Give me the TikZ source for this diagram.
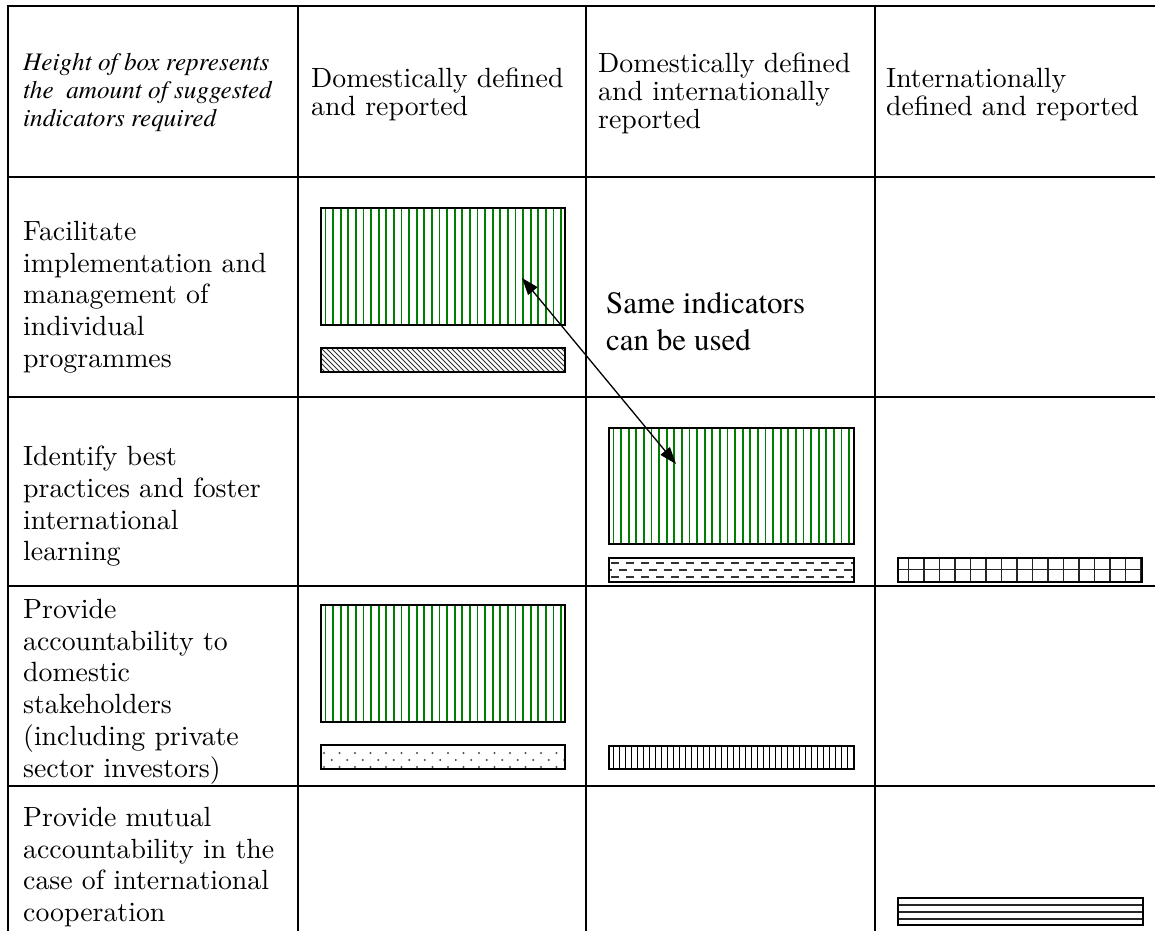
\documentclass[tikz,border=0pt]{standalone}
\usepackage{fontspec}
\usetikzlibrary{arrows.meta}
\newfontfamily\rowfont{lmroman10-regular.otf}
\IfFontExistsTF{texgyretermes-regular.otf}
  {\newfontfamily\timesfont{texgyretermes-regular.otf}[ItalicFont=texgyretermes-italic.otf]}
  {\newfontfamily\timesfont{Liberation Serif}}
\definecolor{stripegreen}{RGB}{0,128,0}
\newcommand{\gbox}[4]{%
  \begin{scope}
    \clip (#1,#2) rectangle (#3,#4);
    \foreach \k in {0,...,32} \draw[greenline] (#1+4.5+\k*7.6,#2) -- (#1+4.5+\k*7.6,#4);
  \end{scope}
  \draw[boxline] (#1,#2) rectangle (#3,#4);}
\begin{document}
\begin{tikzpicture}[x=1pt,y=-1pt,
  tableline/.style={line width=2.5pt,black},
  boxline/.style={line width=1.6pt,black},
  greenline/.style={line width=1.8pt,stripegreen},
  hatchline/.style={line width=1pt,black!80},
  rowtext/.style={anchor=north west,inner sep=0pt,align=left,font=\rowfont\fontsize{27.8}{31.7}\selectfont},
  hdrtext/.style={anchor=north west,inner sep=0pt,align=left,font=\rowfont\fontsize{27.8}{28}\selectfont},
  hdrit/.style={anchor=north west,inner sep=0pt,align=left,font=\timesfont\itshape\fontsize{25.2}{28}\selectfont},
  notetext/.style={anchor=north west,inner sep=0pt,align=left,font=\timesfont\fontsize{31}{37}\selectfont},
  twoway/.style={{Triangle[length=17pt,width=12pt]}-{Triangle[length=17pt,width=12pt]},line width=1.3pt}]
\useasboundingbox (0,0) rectangle (1155,931);
\fill[white] (0,0) rectangle (1155,931);
% table grid
\foreach \yy in {6,177,397,586,786} \draw[tableline] (6.8,\yy) -- (1155,\yy);
\foreach \xx in {8,298,586,875} \draw[tableline] (\xx,4.8) -- (\xx,931);
% header texts
\node[hdrit] (h0) at (23,53) {Height of box represents\\the~ amount of suggested\\indicators required};
\node[hdrtext] (h1) at (311,68) {Domestically defined\\and reported};
\node[hdrtext] (h2) at (598,53) {Domestically defined\\and internationally\\reported};
\node[hdrtext] (h3) at (886,68) {Internationally\\defined and reported};
% row texts
\node[rowtext] (r1) at (23,221) {Facilitate\\implementation and\\management of\\individual\\programmes};
\node[rowtext] (r2) at (23,446) {Identify best\\practices and foster\\international\\learning};
\node[rowtext] (r3) at (23,599) {Provide\\accountability to\\domestic\\stakeholders\\(including private\\sector investors)};
\node[rowtext] (r4) at (23,807) {Provide mutual\\accountability in the\\case of international\\cooperation};
% green boxes
\gbox{321}{208}{565}{325}
\gbox{609}{428}{854}{544}
\gbox{321}{605}{565}{722}
% diagonal hatched box
\begin{scope}
  \clip (321,348) rectangle (565,372);
  \foreach \k in {-6,...,50} \draw[hatchline] (321+\k*5,348) -- ++(24,24);
\end{scope}
\draw[boxline] (321,348) rectangle (565,372);
% dashed box
\begin{scope}
  \clip (609,558) rectangle (854,582);
  \draw[line width=1.1pt,black!80,dash pattern=on 8pt off 7pt] (611,563) -- (854,563);
  \draw[line width=1.1pt,black!80,dash pattern=on 8pt off 7pt] (603.5,570) -- (854,570);
  \draw[line width=1.1pt,black!80,dash pattern=on 8pt off 7pt] (611,577) -- (854,577);
\end{scope}
\draw[boxline] (609,558) rectangle (854,582);
% grid box
\begin{scope}
  \clip (898,558) rectangle (1142,582);
  \draw[line width=1.3pt,black!85] (898,569.5) -- (1142,569.5);
  \foreach \k in {0,...,15} \draw[line width=1.3pt,black!85] (908.5+\k*15.5,558) -- (908.5+\k*15.5,582);
\end{scope}
\draw[boxline] (898,558) rectangle (1142,582);
% dotted box
\begin{scope}
  \clip (321,745) rectangle (565,769);
  \foreach \k in {0,...,15} {
    \fill[black!70] (324+\k*15.5,753) circle (1.1);
    \fill[black!70] (331.7+\k*15.5,760) circle (1.1);
    \fill[black!70] (324+\k*15.5,767) circle (1.1);
  }
\end{scope}
\draw[boxline] (321,745) rectangle (565,769);
% dense vertical-lines box
\begin{scope}
  \clip (609,746) rectangle (854,769);
  \foreach \k in {0,...,40} \draw[line width=1.2pt,black] (613.5+\k*6,746) -- (613.5+\k*6,769);
\end{scope}
\draw[boxline] (609,746) rectangle (854,769);
% horizontal-lines box
\begin{scope}
  \clip (898,898) rectangle (1143,925);
  \foreach \yy in {905,912,919} \draw[line width=1.4pt,black!85] (898,\yy) -- (1143,\yy);
\end{scope}
\draw[boxline] (898,898) rectangle (1143,925);
% note and arrow
\node[notetext] (note) at (606,292) {Same indicators\\can be used};
\coordinate (a1) at (522,278);
\coordinate (a2) at (676,464);
\draw[twoway] (a1) -- (a2);
\end{tikzpicture}
\end{document}
